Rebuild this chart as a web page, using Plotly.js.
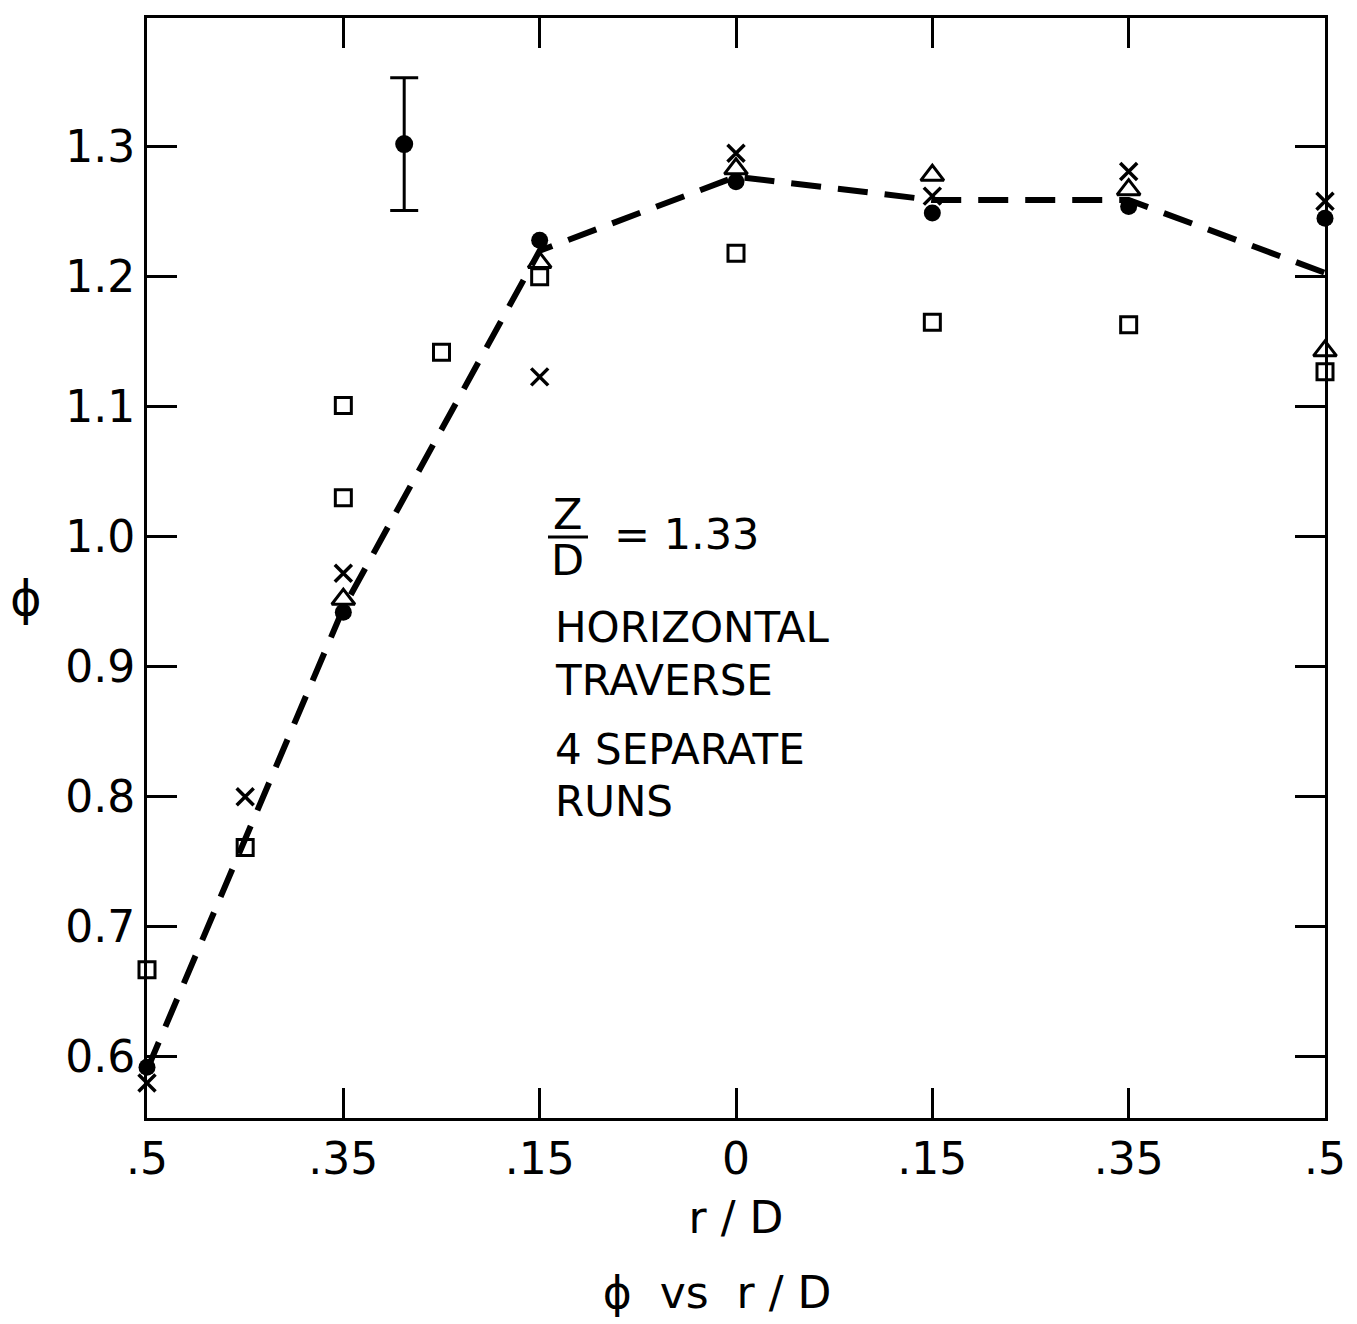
<!DOCTYPE html>
<html>
<head>
<meta charset="utf-8">
<script src="https://cdn.plot.ly/plotly-3.0.1.min.js"></script>
<style>html,body{margin:0;padding:0;background:#fff;}#chart{width:1357px;height:1324px;}</style>
</head>
<body>
<div id="chart"></div>
<script>
// Tick positions (equally spaced stations) and their labels (r/D)
const xTickPos = [-3, -2, -1, 0, 1, 2, 3];
const xTickText = ['.5', '.35', '.15', '0', '.15', '.35', '.5'];
const yTickVals = [0.6, 0.7, 0.8, 0.9, 1.0, 1.1, 1.2, 1.3];

// Mean curve (dashed)
const meanX = [-3, -2, -1, 0, 1, 2, 3];
const meanY = [0.59, 0.945, 1.22, 1.277, 1.259, 1.259, 1.203];

// Run 1: filled circles
const circX = [-3, -2, -1, 0, 1, 2, 3];
const circY = [0.592, 0.942, 1.228, 1.273, 1.249, 1.254, 1.245];

// Run 2: crosses
const crossX = [-3, -2.5, -2, -1, 0, 1, 2, 3];
const crossY = [0.580, 0.800, 0.972, 1.123, 1.295, 1.262, 1.281, 1.258];

// Run 3: open triangles
const triX = [-2, -1, 0, 1, 2, 3];
const triY = [0.952, 1.211, 1.283, 1.278, 1.267, 1.143];

// Run 4: open squares
const sqX = [-3, -2.5, -2, -2, -1.5, -1, 0, 1, 2, 3];
const sqY = [0.667, 0.761, 1.030, 1.101, 1.142, 1.200, 1.218, 1.165, 1.163, 1.127];

// Representative error bar
const errX = [-1.69];
const errY = [1.302];
const errSize = [0.051];

const FONT = 'DejaVu Sans, sans-serif';
const W = 1357, H = 1324;
const M = {l: 147, r: 32, t: 18, b: 206};
const px = v => (v - M.l) / (W - M.l - M.r);
const py = v => (H - M.b - v) / (H - M.t - M.b);

const traces = [
  {x: meanX, y: meanY, mode: 'lines', type: 'scatter', name: 'mean',
   line: {color: '#000', width: 6, dash: '30px,17px'}, cliponaxis: false},
  {x: sqX, y: sqY, mode: 'markers', type: 'scatter', name: 'run 4',
   marker: {symbol: 'square-open', size: 16, color: '#000', line: {width: 3, color: '#000'}}, cliponaxis: false},
  {x: triX, y: triY, mode: 'markers', type: 'scatter', name: 'run 3',
   marker: {symbol: 'triangle-up-open', size: 20, color: '#000', line: {width: 3, color: '#000'}}, cliponaxis: false},
  {x: crossX, y: crossY, mode: 'markers', type: 'scatter', name: 'run 2',
   marker: {symbol: 'x-thin-open', size: 17, color: '#000', line: {width: 3.5, color: '#000'}}, cliponaxis: false},
  {x: circX, y: circY, mode: 'markers', type: 'scatter', name: 'run 1',
   marker: {symbol: 'circle', size: 17, color: '#000'}, cliponaxis: false},
  {x: errX, y: errY, mode: 'markers', type: 'scatter', name: 'error',
   marker: {symbol: 'circle', size: 18, color: '#000'},
   error_y: {type: 'data', array: errSize, visible: true, color: '#000', thickness: 3, width: 14},
   cliponaxis: false}
];

const axisCommon = {
  showline: true, linecolor: '#000', linewidth: 3, mirror: 'ticks',
  ticks: 'inside', ticklen: 30, tickwidth: 3, tickcolor: '#000',
  showgrid: false, zeroline: false,
  tickfont: {family: FONT, size: 44, color: '#000'}
};

const ann = (text, x, y, xanchor, size) => ({
  text, xref: 'paper', yref: 'paper', x: px(x), y: py(y),
  xanchor: xanchor || 'left', yanchor: 'middle', showarrow: false,
  font: {family: FONT, size: size || 43, color: '#000'}
});

const layout = {
  width: W, height: H,
  margin: M,
  paper_bgcolor: '#fff', plot_bgcolor: '#fff',
  showlegend: false,
  title: {
    text: '\u03d5  vs  r / D',
    font: {family: FONT, size: 44, color: '#000'},
    x: 717 / W, xanchor: 'center', xref: 'container',
    y: (H - 1293) / H, yanchor: 'middle', yref: 'container'
  },
  xaxis: Object.assign({}, axisCommon, {
    range: [-3, 3],
    tickmode: 'array', tickvals: xTickPos, ticktext: xTickText,
    title: {text: 'r / D', font: {family: FONT, size: 44, color: '#000'}, standoff: 20}
  }),
  yaxis: Object.assign({}, axisCommon, {
    range: [0.553, 1.399],
    tickmode: 'array', tickvals: yTickVals, tickformat: '.1f'
  }),
  shapes: [
    {type: 'line', xref: 'paper', yref: 'paper',
     x0: px(548), x1: px(588), y0: py(537), y1: py(537),
     line: {color: '#000', width: 3}}
  ],
  annotations: [
    ann('\u03d5', 26, 598, 'center', 48),
    ann('Z', 567, 514, 'center'),
    ann('D', 567, 560, 'center'),
    ann('= 1.33', 612, 534),
    ann('HORIZONTAL', 553, 627, 'left', 42),
    ann('TRAVERSE', 553, 680, 'left', 42),
    ann('4 SEPARATE', 553, 749, 'left', 42),
    ann('RUNS', 553, 801, 'left', 42)
  ]
};

Plotly.newPlot('chart', traces, layout, {displayModeBar: false, staticPlot: true});
</script>
</body>
</html>
